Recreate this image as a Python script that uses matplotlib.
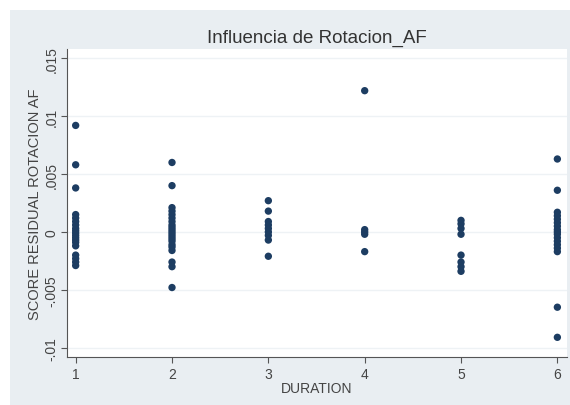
import numpy as np
import matplotlib
matplotlib.use('Agg')
import matplotlib.pyplot as plt
from matplotlib.patches import Rectangle

plt.rcParams['font.family'] = ['Liberation Sans', 'DejaVu Sans']

# Residual scores, one list per DURATION value
durations = [1, 2, 3, 4, 5, 6]
res1 = [0.0092, 0.0058, 0.0038, 0.0015, 0.0012, 0.0009, 0.0006, 0.0003, 0.0001,
        -0.0001, -0.0003, -0.0005, -0.0007, -0.0009, -0.0012,
        -0.0020, -0.0023, -0.0026, -0.0029]
res2 = [0.0060, 0.0040, 0.0021, 0.0018, 0.0015, 0.0012, 0.0009, 0.0006, 0.0004,
        0.0002, 0.0000, -0.0002, -0.0004, -0.0006, -0.0008, -0.0011, -0.0013,
        -0.0016, -0.0026, -0.0030, -0.0048]
res3 = [0.0027, 0.0018, 0.0009, 0.0006, 0.0003, 0.0000, -0.0003, -0.0007, -0.0021]
res4 = [0.0122, 0.0002, 0.0000, -0.0002, -0.0017]
res5 = [0.0010, 0.0007, 0.0003, -0.0002, -0.0020, -0.0026, -0.0030, -0.0034]
res6 = [0.0063, 0.0036, 0.0017, 0.0014, 0.0011, 0.0008, 0.0005, 0.0002, 0.0000,
        -0.0002, -0.0005, -0.0008, -0.0011, -0.0014, -0.0017, -0.0065, -0.0091]

yticks = [-0.01, -0.005, 0, 0.005, 0.01, 0.015]
ytick_labels = ['-.01', '-.005', '0', '.005', '.01', '.015']

residuals = [res1, res2, res3, res4, res5, res6]

fig = plt.figure(figsize=(5.7, 4.06), dpi=100)
fig.patch.set_facecolor('white')
# Stata-like graph region, behind the axes
fig.patches.append(Rectangle((10/570, 0), 1, 1 - 11/406, transform=fig.transFigure,
                             facecolor='#e9eef2', edgecolor='none', zorder=-10))

ax = fig.add_axes([67/570, 48/406, 500/570, 308/406])
ax.set_zorder(1)
ax.set_facecolor('white')

for d, r in zip(durations, residuals):
    ax.scatter(np.full(len(r), d), r, s=28, color='#1d3d62', edgecolors='none', zorder=3)

ax.set_xlim(0.91, 6.10)
ax.set_ylim(-0.0108, 0.0158)
ax.set_xticks(durations)
ax.set_yticks(yticks)
ax.set_yticklabels(ytick_labels, rotation=90, va='center')
ax.grid(axis='y', color='#eef2f5', linewidth=1.0, zorder=0)

for s in ['top', 'right']:
    ax.spines[s].set_visible(False)
for s in ['left', 'bottom']:
    ax.spines[s].set_color('#555555')
    ax.spines[s].set_linewidth(0.8)
ax.tick_params(colors='#555555', labelcolor='#444444', labelsize=10, length=4, width=0.8)
ax.tick_params(axis='y', pad=2)

ax.set_xlabel('DURATION', fontsize=10, color='#444444', labelpad=0)
ax.set_ylabel('SCORE RESIDUAL ROTACION AF', fontsize=10.5, color='#444444', labelpad=2)
fig.text(317/570, 1 - 38/406, 'Influencia de Rotacion_AF', fontsize=13.5,
         color='#333333', ha='center', va='center')

fig.savefig('out.png', dpi=100)
